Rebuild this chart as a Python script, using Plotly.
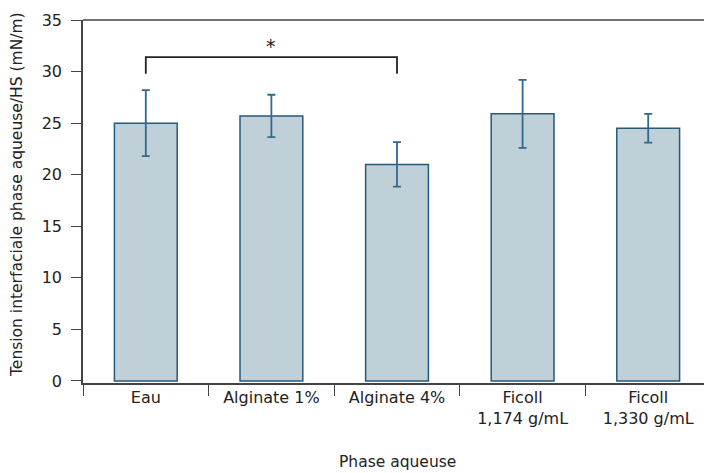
import plotly.graph_objects as go

categories = ["Eau", "Alginate 1%", "Alginate 4%", "Ficoll<br>1,174 g/mL", "Ficoll<br>1,330 g/mL"]
values = [25.0, 25.7, 21.0, 25.9, 24.5]
errors = [3.2, 2.05, 2.15, 3.3, 1.4]
y_ticks = [0, 5, 10, 15, 20, 25, 30, 35]
bracket_y = 31.4
bracket_drop = 29.8
star_y = 32.5

FONT = "DejaVu Sans"

fig = go.Figure()
fig.add_trace(go.Bar(
    x=categories, y=values,
    width=0.5,
    marker=dict(color="#c0d0d9", line=dict(color="#245a7c", width=1.5)),
    error_y=dict(type="data", array=errors, visible=True,
                 color="#2f6a8c", thickness=1.8, width=4),
    showlegend=False,
))

# significance bracket between Eau and Alginate 4%
fig.add_trace(go.Scatter(
    x=[categories[0], categories[0], categories[2], categories[2]],
    y=[bracket_drop, bracket_y, bracket_y, bracket_drop],
    mode="lines", line=dict(color="#222222", width=1.8),
    showlegend=False, hoverinfo="skip",
))
fig.add_annotation(x=1, xref="x", y=star_y, yref="y", text="*",
                   showarrow=False, font=dict(family=FONT, size=19, color="#222"))

fig.add_shape(type="line", xref="paper", yref="paper", x0=0, x1=1, y0=1, y1=1,
              line=dict(color="#444444", width=1.5))

# axis titles as annotations for exact placement
fig.add_annotation(xref="paper", yref="paper", x=0.5, y=0, yshift=-79,
                   text="Phase aqueuse", showarrow=False, yanchor="middle",
                   font=dict(family=FONT, size=15.5, color="#222"))
fig.add_annotation(xref="paper", yref="paper", x=0, xshift=-66, y=0.518,
                   text="Tension interfaciale phase aqueuse/HS (mN/m)", showarrow=False,
                   textangle=-90, xanchor="center", yanchor="middle",
                   font=dict(family=FONT, size=15.5, color="#222"))

# page body has an 8px margin, so the figure is sized/offset to compensate
fig.update_layout(
    width=704, height=465,
    margin=dict(l=75, r=1, t=12, b=90),
    plot_bgcolor="white", paper_bgcolor="white",
    font=dict(family=FONT, size=16, color="#222"),
    xaxis=dict(
        type="category",
        automargin=False,
        showline=True, linecolor="#444444", linewidth=1.5,
        ticks="outside", ticklen=11, tickcolor="#444444", tickwidth=1.2,
        tickson="boundaries",
        showgrid=False, zeroline=False,
        range=[-0.5, 4.5],
        tickfont=dict(size=16),
        ticklabelstandoff=-1,
    ),
    yaxis=dict(
        automargin=False,
        range=[-0.2, 35],
        tickvals=y_ticks,
        showline=True, linecolor="#444444", linewidth=1.5,
        ticks="outside", ticklen=10, tickcolor="#444444", tickwidth=1.2,
        showgrid=False, zeroline=False,
        tickfont=dict(size=16),
        ticklabelstandoff=6,
    ),
)

fig.write_html("out.html")
